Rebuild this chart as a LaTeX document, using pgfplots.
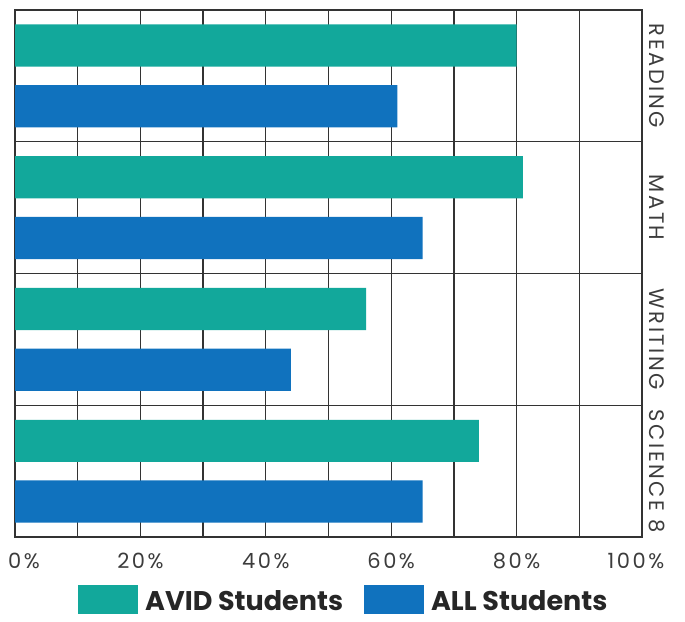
\documentclass[border=0pt]{standalone}
\usepackage{pgfplots}
\pgfplotsset{compat=1.18}
\usepackage{fontspec}
\setmainfont{Poppins}
\newfontfamily\widefont[LetterSpace=12]{Poppins}
\definecolor{avid}{RGB}{18,168,155}
\definecolor{allst}{RGB}{16,114,190}
\definecolor{gridc}{RGB}{51,51,51}
\definecolor{labc}{RGB}{60,60,60}
\begin{document}
\begin{tikzpicture}
\useasboundingbox (-15pt,-84pt) rectangle (670pt,537pt);
\begin{axis}[
	scale only axis,
	width=627pt, height=527pt,
	xbar, bar width=0.32,
	y dir=reverse,
	xmin=0, xmax=100, ymin=-0.5, ymax=3.5,
	xtick={0,20,...,100},
	minor xtick={10,30,...,90},
	xticklabels={\hspace*{18pt}0\%,20\%,40\%,60\%,80\%,100\%\hspace*{12pt}},
	xticklabel style={font=\widefont\fontsize{21}{25}\selectfont, text=labc, inner sep=0pt, anchor=north, yshift=-16pt},
	ytick={0,1,2,3},
	yticklabels={READING,MATH,WRITING,SCIENCE 8},
	yticklabel pos=right,
	yticklabel style={font=\widefont\fontsize{21}{25}\selectfont, text=labc, inner sep=0pt, xshift=7pt, rotate=-90, anchor=base},
	extra y ticks={0.5,1.5,2.5},
	extra y tick labels={},
	extra y tick style={grid=major},
	xmajorgrids, xminorgrids,
	grid style={gridc, line width=1.3pt},
	minor grid style={gridc, line width=1.3pt},
	axis line style={gridc, line width=1.3pt},
	major tick length=0pt, minor tick length=0pt,
	legend columns=2,
	legend style={draw=none, fill=none, inner sep=0pt, at={(0.1005,-0.0911)}, anchor=north west,
		nodes={inner sep=0pt, font=\fontsize{27}{32}\selectfont\bfseries, text=black!85},
		/tikz/every odd column/.append style={column sep=7pt},
		/tikz/every even column/.append style={column sep=21pt}},
	legend image code/.code={\fill[#1] (0pt,-13pt) rectangle (60pt,16pt);},
]
	\addplot[fill=avid, draw=none, bar shift=-0.23] coordinates {(80,0) (81,1) (56,2) (74,3)};
	\addplot[fill=allst, draw=none, bar shift=0.23] coordinates {(61,0) (65,1) (44,2) (65,3)};
	\legend{AVID Students, ALL Students}
\end{axis}
\end{tikzpicture}
\end{document}
